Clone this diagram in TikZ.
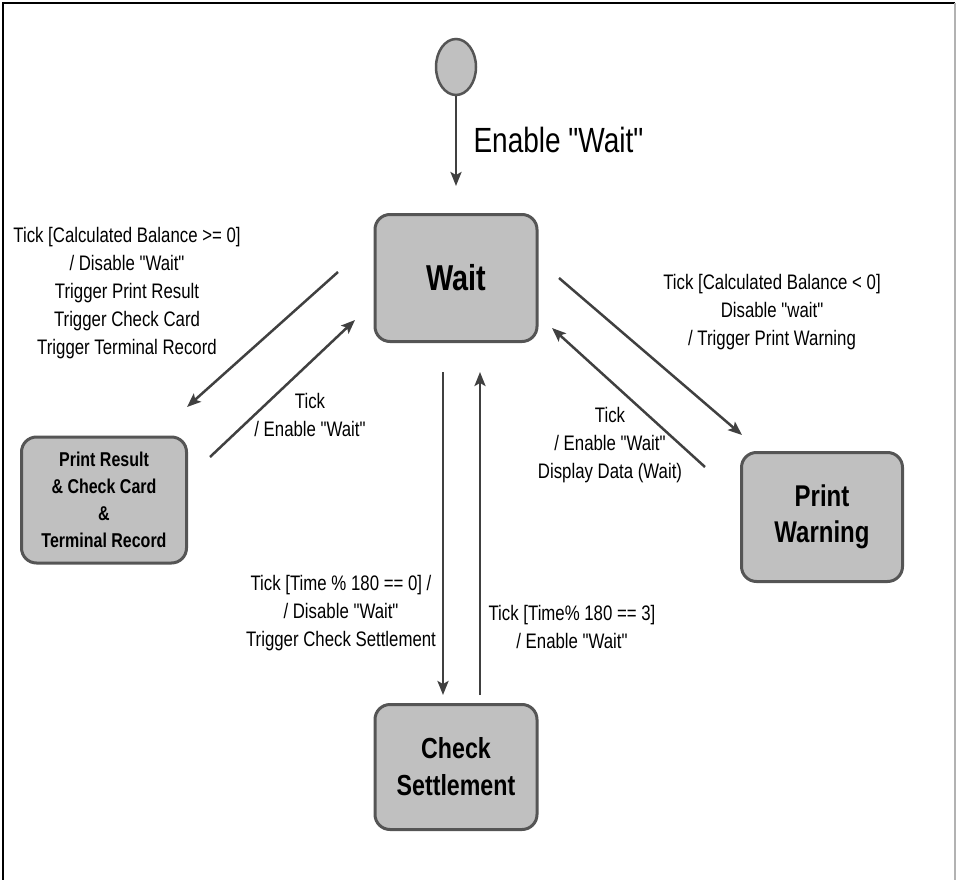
\documentclass[tikz,border=0pt]{standalone}
\usepackage{fontspec}
\setmainfont[FakeStretch=0.8, Ligatures=TeXOff]{Liberation Sans}
\usetikzlibrary{arrows.meta,shapes.geometric}

\definecolor{stategray}{HTML}{C0C0C0}
\definecolor{edgegray}{HTML}{555555}
\definecolor{arrowgray}{HTML}{404040}

\tikzset{
    state/.style={draw=edgegray, line width=3pt, fill=stategray, rounded corners=15pt,
        align=center, font=\bfseries, inner sep=2pt},
    trans/.style={draw=arrowgray, line width=2.5pt, -{Stealth[length=14pt,width=11pt,inset=3pt]}},
    guard/.style={align=center, font=\fontsize{21}{28}\selectfont},
}

\begin{document}
\begin{tikzpicture}[x=1pt, y=-1pt]
    \useasboundingbox (0,0) rectangle (956,880);
    \draw[black, line width=2pt] (3,880) -- (3,3) -- (955,3);
    \draw[gray!60, line width=2pt] (955,3) -- (955,880);

    % states
    \node[draw=edgegray, line width=2.5pt, fill=stategray, ellipse, minimum width=40pt, minimum height=56pt, inner sep=0pt] (init) at (456,67) {};
    \node[state, minimum width=162pt, minimum height=127pt, font=\bfseries\fontsize{36}{40}\selectfont] (wait) at (456,278) {Wait};
    \node[state, minimum width=165pt, minimum height=126pt, font=\bfseries\fontsize{20}{27}\selectfont] (result) at (104,500) {Print Result\\ \& Check Card\\ \&\\ Terminal Record};
    \node[state, minimum width=161pt, minimum height=129pt, font=\bfseries\fontsize{30}{36}\selectfont] (warning) at (822,517) {Print\\ Warning};
    \node[state, minimum width=162pt, minimum height=125pt, font=\bfseries\fontsize{29}{37}\selectfont] (settle) at (456,767) {Check\\ Settlement};

    % free ends of the transitions
    \coordinate (w2r) at (338,272);
    \coordinate (r2wtip) at (187,407);
    \coordinate (r2w) at (210,457);
    \coordinate (w2rtip) at (355,320);
    \coordinate (w2p) at (559,278);
    \coordinate (w2ptip) at (742,435);
    \coordinate (p2w) at (705,467);
    \coordinate (p2wtip) at (552,328);
    \coordinate (w2s) at (443,372);
    \coordinate (w2stip) at (443,695);
    \coordinate (s2w) at (480,695);
    \coordinate (s2wtip) at (480,372);

    \draw[trans, shorten >=27pt] (init) -- (wait);
    \draw[trans] (w2r) -- (r2wtip);
    \draw[trans] (r2w) -- (w2rtip);
    \draw[trans] (w2p) -- (w2ptip);
    \draw[trans] (p2w) -- (p2wtip);
    \draw[trans] (w2s) -- (w2stip);
    \draw[trans] (s2w) -- (s2wtip);

    % guards
    \node[anchor=west, font=\fontsize{35}{40}\selectfont] (enable) at (470,140) {Enable "Wait"};
    \node[guard] (g1) at (127,293) {Tick [Calculated Balance >= 0]\\ / Disable "Wait"\\ Trigger Print Result\\ Trigger Check Card\\ Trigger Terminal Record};
    \node[guard] (g2) at (310,415) {Tick\\ / Enable "Wait"};
    \node[guard] (g3) at (772,312) {Tick [Calculated Balance < 0]\\ Disable "wait"\\ / Trigger Print Warning};
    \node[guard] (g4) at (610,445) {Tick\\ / Enable "Wait"\\ Display Data (Wait)};
    \node[guard] (g5) at (341,613) {Tick [Time \% 180 == 0] /\\ / Disable "Wait"\\ Trigger Check Settlement};
    \node[guard] (g6) at (572,627) {Tick [Time\% 180 == 3]\\ / Enable "Wait"};
\end{tikzpicture}
\end{document}
